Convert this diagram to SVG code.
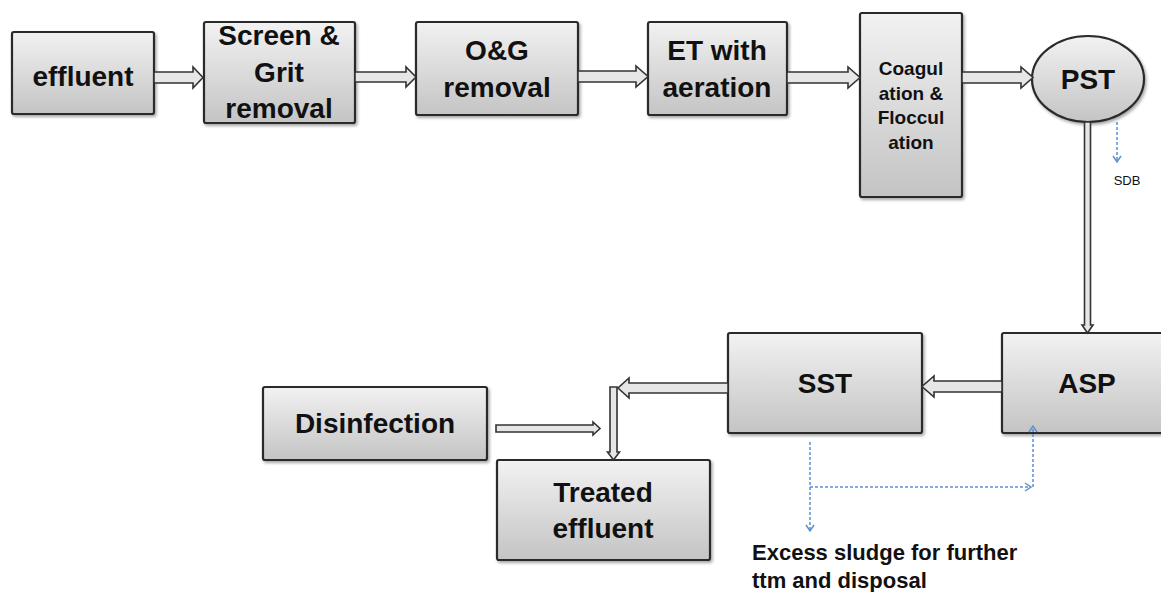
<svg xmlns="http://www.w3.org/2000/svg" width="1161" height="592" viewBox="0 0 1161 592">
<style>
.box{fill:url(#g);stroke:#2b2b2b;stroke-width:2.2;filter:url(#sh)}
.t{font-family:"Liberation Sans",Arial,sans-serif;font-weight:bold;fill:#111;text-anchor:middle}
.big{font-size:28px}
.mid{font-size:19px}
.arr{fill:#e6e6e6;stroke:#333;stroke-width:1.6;stroke-linejoin:miter}
.dot{fill:none;stroke:#5b8fd0;stroke-width:1.5;stroke-dasharray:3 2}
.dh{fill:none;stroke:#5b8fd0;stroke-width:1.5}
</style>
<defs>
<linearGradient id="g" x1="0" y1="0" x2="0" y2="1">
<stop offset="0" stop-color="#f2f2f2"/>
<stop offset="1" stop-color="#c4c4c4"/>
</linearGradient>
<filter id="sh" x="-10%" y="-10%" width="130%" height="130%">
<feDropShadow dx="1.5" dy="2" stdDeviation="1.5" flood-color="#000" flood-opacity="0.35"/>
</filter>
</defs>
<rect width="1161" height="592" fill="#fff"/>

<g id="n-effluent">
<rect class="box" x="12" y="32" width="142" height="82" rx="2"/>
<text class="t big" x="83" y="86">effluent</text>
</g>
<g id="n-screen">
<rect class="box" x="204" y="22" width="151" height="101" rx="2"/>
<text class="t big" x="279" y="45">Screen &amp;</text>
<text class="t big" x="279" y="82">Grit</text>
<text class="t big" x="279" y="118">removal</text>
</g>
<g id="n-og">
<rect class="box" x="416" y="22" width="162" height="93" rx="2"/>
<text class="t big" x="497" y="60">O&amp;G</text>
<text class="t big" x="497" y="97">removal</text>
</g>
<g id="n-et">
<rect class="box" x="648" y="22" width="139" height="93" rx="2"/>
<text class="t big" x="717" y="60">ET with</text>
<text class="t big" x="717" y="97">aeration</text>
</g>
<g id="n-coag">
<rect class="box" x="860" y="13" width="102" height="184" rx="2"/>
<text class="t mid" x="911" y="75">Coagul</text>
<text class="t mid" x="911" y="100">ation &amp;</text>
<text class="t mid" x="911" y="124">Floccul</text>
<text class="t mid" x="911" y="149">ation</text>
</g>
<g id="n-pst">
<ellipse class="box" cx="1088" cy="79" rx="56" ry="43"/>
<text class="t big" x="1088" y="89">PST</text>
</g>
<g id="n-sdb">
<text class="t" x="1127" y="185" font-size="13" style="font-weight:normal">SDB</text>
</g>
<g id="n-asp">
<rect class="box" x="1002" y="333" width="170" height="100" rx="2"/>
<text class="t big" x="1087" y="393">ASP</text>
</g>
<g id="n-sst">
<rect class="box" x="728" y="333" width="194" height="100" rx="2"/>
<text class="t big" x="825" y="393">SST</text>
</g>
<g id="n-disinfection">
<rect class="box" x="263" y="387" width="224" height="73" rx="2"/>
<text class="t big" x="375" y="433">Disinfection</text>
</g>
<g id="n-treated">
<rect class="box" x="497" y="460" width="213" height="100" rx="2"/>
<text class="t big" x="603" y="502">Treated</text>
<text class="t big" x="603" y="538">effluent</text>
</g>
<g id="n-excess">
<text class="t" x="752" y="560" font-size="22" style="text-anchor:start">Excess sludge for further</text>
<text class="t" x="752" y="588" font-size="22" style="text-anchor:start">ttm and disposal</text>
</g>

<g id="connectors">
<path class="arr" d="M154 72 H193 V67 L203 77.5 L193 88 V83 H154 Z"/>
<path class="arr" d="M355 72 H406 V67 L416 77 L406 87 V82 H355 Z"/>
<path class="arr" d="M578 71 H636 V66 L648 76.5 L636 87 V82 H578 Z"/>
<path class="arr" d="M787 72 H848 V67 L860 77.5 L848 88 V83 H787 Z"/>
<path class="arr" d="M962 72 H1021 V67 L1033 77.5 L1021 88 V83 H962 Z"/>
<path class="arr" d="M1084.5 122 V325 H1082 L1087.5 333 L1093 325 H1090.5 V122 Z"/>
<path class="arr" d="M1002 381 H934 V376 L922 386.5 L934 397 V392 H1002 Z"/>
<path class="arr" d="M728 383 H629 V378 L618 388 L629 398 V393 H728 Z"/>
<path class="arr" d="M610 387 H617 V452 H619.5 L613.5 460 L607.5 452 H610 Z"/>
<path class="arr" d="M496 425 H593 V422 L600 428.5 L593 435 V432 H496 Z"/>
<path class="dot" d="M1117 122 V161"/>
<path class="dh" d="M1113 156 L1117 162 L1121 156"/>
<path class="dot" d="M810 442 V530"/>
<path class="dh" d="M806 525 L810 531 L814 525"/>
<path class="dot" d="M810 487 H1031"/>
<path class="dh" d="M1025 483 L1031 487 L1025 491"/>
<path class="dot" d="M1033 487 V427"/>
<path class="dh" d="M1029 432 L1033 426 L1037 432"/>
</g>
</svg>
